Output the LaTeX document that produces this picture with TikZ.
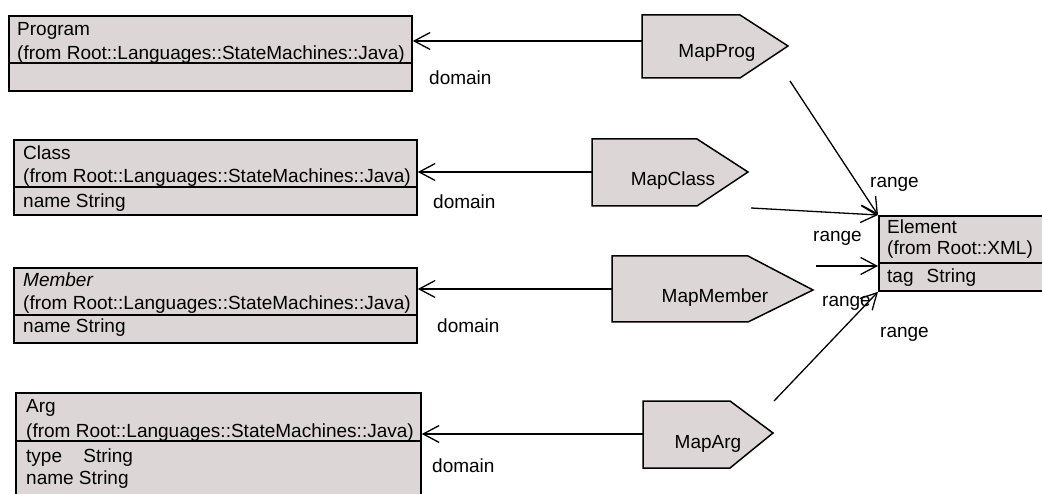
\documentclass[tikz,border=0pt]{standalone}
\usepackage{fontspec}
\setmainfont{Liberation Sans}
\usetikzlibrary{arrows.meta}
\definecolor{boxfill}{RGB}{220,214,214}
\begin{document}
\begin{tikzpicture}[x=1pt,y=-1pt,
  umlbox/.style={draw=black,line width=1.8pt,fill=boxfill,inner sep=0pt,anchor=north west},
  divider/.style={line width=1.8pt},
  txt/.style={inner sep=0pt,anchor=base west,font=\fontsize{19}{22}\selectfont},
  ctxt/.style={inner sep=0pt,anchor=base,font=\fontsize{19}{22}\selectfont},
  pent/.style={draw=black,line width=1.5pt,fill=boxfill,line join=miter},
  arr/.style={line width=1.3pt,-{Straight Barb[length=16pt,width=17pt,line width=1.3pt]}}
]
\useasboundingbox (0,0) rectangle (1042,494);

% ---- left class boxes ----
\node[umlbox,minimum width=403pt,minimum height=75pt] (prog) at (8,15) {};
\draw[divider] (prog.west |- 0,63) -- (prog.east |- 0,63);
\node[txt] (progname) at (17,36) {Program};
\node[txt] (progfrom) at (17,60) {(from Root::Languages::StateMachines::Java)};

\node[umlbox,minimum width=403pt,minimum height=75pt] (cls) at (13,139) {};
\draw[divider] (cls.west |- 0,187) -- (cls.east |- 0,187);
\node[txt] (clsname) at (23,160) {Class};
\node[txt] (clsfrom) at (23,183) {(from Root::Languages::StateMachines::Java)};
\node[txt] (clsattr) at (23,208) {name String};

\node[umlbox,minimum width=403pt,minimum height=75pt] (mem) at (13,267) {};
\draw[divider] (mem.west |- 0,315) -- (mem.east |- 0,315);
\node[txt] (memname) at (23,287) {\itshape Member};
\node[txt] (memfrom) at (23,310) {(from Root::Languages::StateMachines::Java)};
\node[txt] (memattr) at (23,333) {name String};

\node[umlbox,minimum width=405pt,minimum height=120pt] (arg) at (15,392) {};
\draw[divider] (arg.west |- 0,441) -- (arg.east |- 0,441);
\node[txt] (argname) at (26,413) {Arg};
\node[txt] (argfrom) at (26,437) {(from Root::Languages::StateMachines::Java)};
\node[txt] (argtype) at (26,462) {type\hspace{16pt} String};
\node[txt] (argattr) at (26,484) {name String};

% ---- Element box ----
\node[umlbox,minimum width=180pt,minimum height=75pt] (elem) at (878,215) {};
\draw[divider] (elem.west |- 0,263) -- (elem.east |- 0,263);
\node[txt] (elemname) at (887,234) {Element};
\node[txt] (elemfrom) at (887,255) {(from Root::XML)};
\node[txt] (elemattr) at (887,283) {tag\hspace{13pt}String};

% ---- mapping pentagons ----
\draw[pent] (642,15) -- (740,15) -- (788,46) -- (740,78) -- (642,78) -- cycle;
\node[ctxt] (mprog) at (717,58) {MapProg};
\coordinate (mprogW) at (642,41);

\draw[pent] (592,139) -- (697,139) -- (748,172) -- (697,206) -- (592,206) -- cycle;
\node[ctxt] (mclass) at (673,186) {MapClass};
\coordinate (mclassW) at (592,172);

\draw[pent] (612,256) -- (748,256) -- (813,290) -- (748,322) -- (612,322) -- cycle;
\node[ctxt] (mmem) at (715,303) {MapMember};
\coordinate (mmemW) at (612,289);

\draw[pent] (643,401) -- (730,401) -- (773,433) -- (730,468) -- (643,468) -- cycle;
\node[ctxt] (marg) at (708,448) {MapArg};
\coordinate (margW) at (643,434);

% ---- domain connectors ----
\draw[arr] (mprogW) -- (prog.east |- mprogW);
\draw[arr] (mclassW) -- (cls.east |- mclassW);
\draw[arr] (mmemW) -- (mem.east |- mmemW);
\draw[arr] (margW) -- (arg.east |- margW);
\node[txt] (d1) at (429,85) {domain};
\node[txt] (d2) at (433,209) {domain};
\node[txt] (d3) at (437,333) {domain};
\node[txt] (d4) at (432,472) {domain};

% ---- range connectors ----
\coordinate (r1) at (790,81);
\coordinate (r2) at (751,208);
\coordinate (r3) at (816,266);
\coordinate (r4) at (774,401);
\draw[arr] (r1) -- (elem.north west);
\draw[arr] (r2) -- (elem.north west);
\draw[arr] (r3) -- (elem.west |- r3);
\draw[arr] (r4) -- (elem.south west);
\node[txt] (rl1) at (870,188) {range};
\node[txt] (rl2) at (813,242) {range};
\node[txt] (rl3) at (822,307) {range};
\node[txt] (rl4) at (880,338) {range};
\end{tikzpicture}
\end{document}
